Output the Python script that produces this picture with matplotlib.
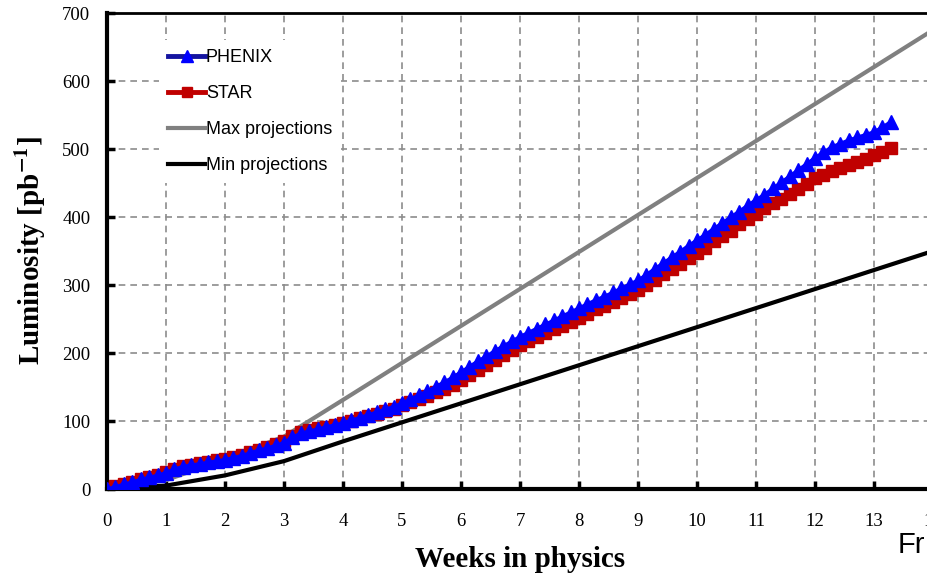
import matplotlib
matplotlib.use("Agg")
import matplotlib.pyplot as plt
from matplotlib.lines import Line2D

# ---- data ----
days = list(range(0, 94))
star = [0, 4, 8, 11, 15, 18, 21, 25,
        30, 34, 36, 38, 40, 42, 44,
        47, 50, 54, 58, 62, 66, 70,
        78, 84, 87, 89, 91, 94, 97,
        100, 104, 107, 110, 114, 118, 123,
        128, 133, 137, 142, 147, 153, 160,
        168, 175, 183, 190, 197, 205, 212,
        218, 224, 230, 235, 240, 246, 252,
        258, 264, 269, 275, 281, 287, 293,
        300, 308, 316, 323, 331, 339, 347,
        355, 364, 372, 380, 389, 397, 405,
        413, 420, 427, 434, 441, 449, 457,
        462, 468, 472, 476, 481, 486, 491,
        496, 501]
phenix = [0, 3, 7, 10, 14, 17, 20, 24,
          29, 33, 35, 37, 39, 41, 43,
          46, 49, 53, 57, 60, 64, 68,
          76, 82, 85, 88, 91, 94, 97,
          101, 105, 109, 113, 117, 121, 126,
          132, 138, 144, 150, 157, 164, 172,
          180, 188, 195, 203, 210, 217, 224,
          230, 236, 242, 248, 254, 260, 266,
          272, 278, 283, 289, 295, 301, 307,
          315, 324, 332, 341, 349, 358, 366,
          374, 383, 391, 400, 408, 417, 425,
          433, 442, 451, 460, 469, 478, 487,
          495, 503, 508, 513, 517, 521, 525,
          532, 540]
max_weeks = [0, 1, 2, 3, 4, 14]
max_lumi = [0, 13, 44, 77, 131, 675]
min_weeks = [0, 1, 2, 3, 4, 5, 14]
min_lumi = [0, 5, 20, 41, 70, 98, 350]
xticks = list(range(0, 15))
yticks = [0, 100, 200, 300, 400, 500, 600, 700]
labels = ["PHENIX", "STAR", "Max projections", "Min projections"]

weeks = [d / 7.0 for d in days]

plt.rcParams['mathtext.fontset'] = 'stix'

fig = plt.figure(figsize=(9.28, 5.76), dpi=100)
ax = fig.add_axes([107 / 928, 1 - 489 / 576, 826 / 928, 476 / 576])

ax.plot(min_weeks, min_lumi, color='black', lw=3, zorder=3)
ax.plot(max_weeks, max_lumi, color='#808080', lw=3, zorder=3)
ax.plot(weeks, star, color='#C00000', lw=2.5, marker='s', ms=8,
        mfc='#C00000', mec='#C00000', zorder=4)
ax.plot(weeks, phenix, color='#0000FF', lw=2.5, marker='^', ms=9.5,
        mfc='#0000FF', mec='#0000FF', zorder=5)

ax.set_xlim(0, 14)
ax.set_ylim(0, 700)
ax.set_xticks(xticks)
ax.set_yticks(yticks)
ax.grid(True, color='#8c8c8c', ls=(0, (4, 3)), lw=1.2, zorder=0)
ax.set_axisbelow(True)

for s in ['left', 'bottom']:
    ax.spines[s].set_linewidth(3)
ax.spines['top'].set_linewidth(2)
ax.spines['right'].set_visible(False)

ax.tick_params(direction='in', length=6, width=2.5, colors='black',
               labelsize=13.5)
ax.tick_params(axis='x', pad=17)
ax.tick_params(axis='y', pad=12)
for lab in ax.get_xticklabels() + ax.get_yticklabels():
    lab.set_fontfamily('Liberation Serif')

ax.set_xlabel('Weeks in physics', fontfamily='Liberation Serif',
              fontweight='bold', fontsize=21, labelpad=12)
ax.set_ylabel(r'Luminosity [pb$^{\mathbf{-1}}$]', fontfamily='Liberation Serif',
              fontweight='bold', fontsize=21, labelpad=10)

handles = [
    Line2D([], [], color='#1414A0', lw=3.5, marker='^', ms=9,
           mfc='#0000FF', mec='#0000FF'),
    Line2D([], [], color='#C00000', lw=3.5, marker='s', ms=7.5,
           mfc='#C00000', mec='#C00000'),
    Line2D([], [], color='#808080', lw=3),
    Line2D([], [], color='black', lw=3),
]
leg = fig.legend(handles, labels, loc='upper left',
                 bbox_to_anchor=(150 / 928, 1 - 31 / 576),
                 frameon=True, facecolor='white', edgecolor='none',
                 framealpha=1, fancybox=False, numpoints=1,
                 handlelength=2.05, handletextpad=0.05, labelspacing=1.05,
                 borderpad=0.5,
                 prop={'family': 'Liberation Sans', 'size': 13})
leg.set_zorder(6)

fig.text(898 / 928, 1 - 553 / 576, 'Fr', fontsize=21,
         fontfamily='Liberation Sans', ha='left', va='baseline')

fig.savefig('out.png', dpi=100)
